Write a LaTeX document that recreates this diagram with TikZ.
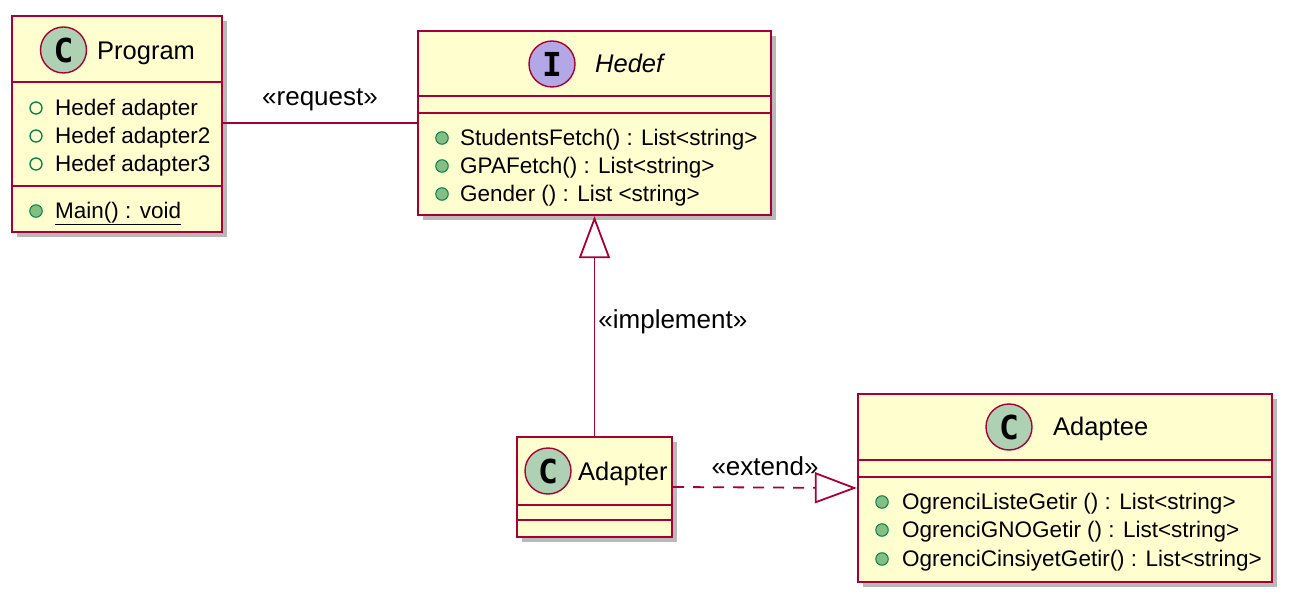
\documentclass[tikz,border=0pt]{standalone}
\usepackage{fontspec}
\setmainfont{Liberation Sans}
\newfontfamily\circfont{DejaVu Sans Mono}
\usetikzlibrary{arrows.meta,shadows}
\definecolor{umlfill}{HTML}{FEFECE}
\definecolor{umlborder}{HTML}{A80036}
\definecolor{cfill}{HTML}{ADD1B2}
\definecolor{ifill}{HTML}{B4A7E5}
\definecolor{dotfill}{HTML}{84BE84}
\definecolor{dotline}{HTML}{038048}
\begin{document}
\begin{tikzpicture}[x=1pt,y=-1pt,
  clsbox/.style={rectangle, draw=umlborder, fill=umlfill, line width=2.3pt, inner sep=0pt,
    drop shadow={shadow xshift=5pt, shadow yshift=-5pt, fill=black!55, opacity=0.5}},
  divider/.style={draw=umlborder, line width=2.3pt},
  circC/.style={circle, draw=umlborder, line width=1.4pt, fill=cfill, minimum size=46pt, inner sep=0pt,
    font=\circfont\bfseries\fontsize{33}{33}\selectfont},
  circI/.style={circC, fill=ifill},
  clsname/.style={inner sep=0pt, anchor=mid west, font=\fontsize{25.5}{30}\selectfont},
  member/.style={inner sep=0pt, anchor=mid west, font=\fontsize{22.5}{27}\selectfont},
  pubdot/.style={circle, draw=dotline, fill=dotfill, line width=1pt, minimum size=12.5pt, inner sep=0pt},
  pubfield/.style={circle, draw=dotline, fill=none, line width=1.3pt, minimum size=12pt, inner sep=0pt},
  conn/.style={draw=umlborder, line width=1.8pt},
  lbl/.style={inner sep=0pt, font=\fontsize{26}{30}\selectfont},
  realize/.style={-{Triangle[open, width=31pt, length=42pt, line width=1.8pt]}}
]
\useasboundingbox (0,0) rectangle (1292,601);

% ---------- Program ----------
\node[clsbox, minimum width=210pt, minimum height=216pt] (program) at (117,124) {};
\draw[divider] (program.west |- 0,82) -- (program.east |- 0,82);
\draw[divider] (program.west |- 0,186) -- (program.east |- 0,186);
\node[circC] (pc) at (63.5,50) {C};
\node[clsname] (pname) at (97,57) {Program};
\node[pubfield] (pf1) at (36,108) {};
\node[member] (pm1) at (55,113) {Hedef adapter};
\node[pubfield] (pf2) at (36,136) {};
\node[member] (pm2) at (55,141) {Hedef adapter2};
\node[pubfield] (pf3) at (36,164) {};
\node[member] (pm3) at (55,169) {Hedef adapter3};
\node[pubdot] (pd4) at (36,211) {};
\node[member] (pm4) at (55,216) {\underline{Main() : void}};

% ---------- Hedef ----------
\node[clsbox, minimum width=353pt, minimum height=184pt] (hedef) at (594.5,123) {};
\draw[divider] (hedef.west |- 0,96) -- (hedef.east |- 0,96);
\draw[divider] (hedef.west |- 0,113) -- (hedef.east |- 0,113);
\node[circI] (hc) at (552,64) {I};
\node[clsname, font=\itshape\fontsize{25.5}{30}\selectfont] (hname) at (595,70) {Hedef};
\node[pubdot] (hd1) at (442,138) {};
\node[member] (hm1) at (460,143) {StudentsFetch() : List<string>};
\node[pubdot] (hd2) at (442,166) {};
\node[member] (hm2) at (460,171) {GPAFetch() : List<string>};
\node[pubdot] (hd3) at (442,194) {};
\node[member] (hm3) at (460,199) {Gender () : List <string>};

% ---------- Adapter ----------
\node[clsbox, minimum width=155pt, minimum height=100pt] (adapter) at (594.5,487) {};
\draw[divider] (adapter.west |- 0,505) -- (adapter.east |- 0,505);
\draw[divider] (adapter.west |- 0,520) -- (adapter.east |- 0,520);
\node[circC] (ac) at (548,471) {C};
\node[clsname] (aname) at (578,478) {Adapter};

% ---------- Adaptee ----------
\node[clsbox, minimum width=414pt, minimum height=188pt] (adaptee) at (1065,488) {};
\draw[divider] (adaptee.west |- 0,460) -- (adaptee.east |- 0,460);
\draw[divider] (adaptee.west |- 0,477) -- (adaptee.east |- 0,477);
\node[circC] (eec) at (1009,427) {C};
\node[clsname] (eename) at (1053,433) {Adaptee};
\node[pubdot] (ed1) at (882,502) {};
\node[member] (em1) at (902,507) {OgrenciListeGetir () : List<string>};
\node[pubdot] (ed2) at (882,530) {};
\node[member] (em2) at (902,535) {OgrenciGNOGetir () : List<string>};
\node[pubdot] (ed3) at (882,559) {};
\node[member] (em3) at (902,564) {OgrenciCinsiyetGetir() : List<string>};

% ---------- connectors ----------
\draw[conn] (program.east |- 0,123) -- (hedef.west |- 0,123)
  node[lbl, midway, above=11pt] {«request»};
\draw[conn, realize] (adapter.north) -- (hedef.south)
  node[lbl, pos=0.52, anchor=west, xshift=3pt] {«implement»};
\draw[conn, realize, dash pattern=on 11pt off 9pt] (adapter.east) -- (adaptee.west)
  node[lbl, pos=0.5, above=11pt] {«extend»};
\end{tikzpicture}
\end{document}
